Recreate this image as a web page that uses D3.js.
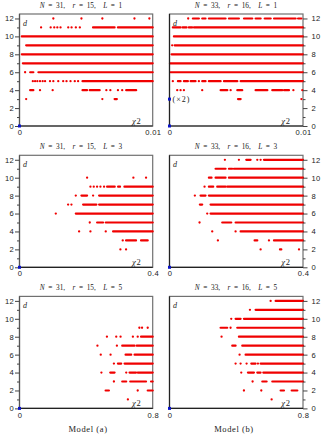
<!DOCTYPE html>
<html>
<head>
<meta charset="utf-8">
<script src="https://cdn.jsdelivr.net/npm/d3@7"></script>
<style>
  html, body { margin: 0; padding: 0; background: #fff; }
  svg { display: block; font-family: "Liberation Serif", "DejaVu Serif", serif; }
</style>
</head>
<body>
<svg id="chart" width="323" height="437"></svg>
<script>
// panel parameters (left column = model a, right column = model b)
const nValues = [31, 33, 31, 33, 31, 33];
const rValues = [15, 16, 15, 16, 15, 16];
const lValues = [1, 1, 3, 3, 5, 5];
const xMaxes = [0.01, 0.01, 0.4, 0.4, 0.8, 0.8];
const xTickLabels = [['0', '0.01'], ['0', '0.01'], ['0', '0.4'], ['0', '0.4'], ['0', '0.8'], ['0', '0.8']];
const yMajorTicks = [0, 2, 4, 6, 8, 10, 12];
const yMinorTicks = [1, 3, 5, 7, 9, 11];
const modelLabels = ['Model (a)', 'Model (b)'];

// red points: [d, runs]; a run is [x] for a single point or [from, to] for a dense stretch
const rowsA1 = [
  [12, [[0.00254], [0.00465], [0.00622], [0.00863], [0.00975]]],
  [11, [[0.00162], [0.00234], [0.00261], [0.00284], [0.00308], [0.00366], [0.00391], [0.00423], [0.00453], [0.00552, 0.00714], [0.00739, 0.01]]],
  [10, [[0.00017, 0.01]]],
  [9, [[0.0005, 0.01]]],
  [8, [[0.00017, 0.01]]],
  [7, [[0.00025, 0.01]]],
  [6, [[0.00042], [0.0008, 0.00104], [0.00142, 0.01]]],
  [5, [[0.001], [0.00117], [0.00134], [0.00154], [0.00174], [0.00192], [0.00229], [0.00254], [0.00291], [0.00328], [0.00353], [0.00383], [0.00415], [0.0044], [0.00473, 0.01]]],
  [4, [[0.0008, 0.00104], [0.00154], [0.00249], [0.00473, 0.00507], [0.00527, 0.00602], [0.00652], [0.00682], [0.00739], [0.00771], [0.00801, 0.00876]]],
  [3, [[0.0005], [0.00622], [0.00714, 0.00731]]]
];
const rowsB1 = [
  [12, [[0.0014], [0.00175, 0.0022], [0.00245, 0.0027], [0.00295, 0.0042], [0.00445, 0.0052], [0.00558, 0.0062], [0.00645, 0.00683], [0.00713, 0.00758], [0.00783, 0.00945], [0.00963, 0.00988]]],
  [11, [[0.00025, 0.00083], [0.00098, 0.00128], [0.00145, 0.0017], [0.00183, 0.01]]],
  [10, [[0.00033, 0.01]]],
  [9, [[0.0002], [0.00038, 0.01]]],
  [8, [[0.00015, 0.01]]],
  [7, [[0.00003, 0.01]]],
  [6, [[0.00008, 0.01]]],
  [5, [[0.00025], [0.00063, 0.00083], [0.00108, 0.00138], [0.00158, 0.00195], [0.0022], [0.00245, 0.0027], [0.00295, 0.00383], [0.00408, 0.00508], [0.00533, 0.01]]],
  [4, [[0.00058], [0.00083], [0.00108], [0.00245], [0.00383, 0.00433], [0.00458], [0.00508, 0.00545], [0.00645, 0.00733], [0.0077, 0.00845], [0.00858, 0.00895], [0.00928], [0.00995]]],
  [3, [[0.00513, 0.00533], [0.00988]]]
];
const rowsA3 = [
  [10, [[0.203], [0.342], [0.38]]],
  [9, [[0.213], [0.223], [0.233], [0.243], [0.254], [0.263, 0.286], [0.296, 0.302], [0.315, 0.4]]],
  [8, [[0.169], [0.186, 0.203], [0.221], [0.239, 0.4]]],
  [7, [[0.146], [0.156], [0.191, 0.231], [0.239, 0.4]]],
  [6, [[0.109], [0.169, 0.4]]],
  [5, [[0.211], [0.233, 0.251], [0.259, 0.4]]],
  [4, [[0.179], [0.213], [0.259], [0.281, 0.4]]],
  [3, [[0.31], [0.32, 0.35], [0.365, 0.385]]],
  [2, [[0.303], [0.32]]]
];
const rowsB3 = [
  [12, [[0.166], [0.208], [0.23, 0.243], [0.263], [0.273], [0.283, 0.4]]],
  [11, [[0.138, 0.168], [0.178, 0.188], [0.193, 0.4]]],
  [10, [[0.118, 0.126], [0.138, 0.168], [0.178, 0.4]]],
  [9, [[0.105], [0.118, 0.131], [0.143, 0.168], [0.173, 0.4]]],
  [8, [[0.076], [0.093, 0.108], [0.118, 0.4]]],
  [7, [[0.091, 0.098], [0.123, 0.4]]],
  [6, [[0.113], [0.123, 0.4]]],
  [5, [[0.09], [0.158, 0.185], [0.198, 0.4]]],
  [4, [[0.128], [0.198], [0.213, 0.4]]],
  [3, [[0.145], [0.255, 0.263], [0.298], [0.313, 0.4]]],
  [2, [[0.273], [0.331, 0.335], [0.388]]]
];
const rowsA5 = [
  [9, [[0.72], [0.736], [0.77]]],
  [8, [[0.525], [0.581], [0.607], [0.681], [0.71], [0.73, 0.8]]],
  [7, [[0.468], [0.585], [0.617, 0.691], [0.704, 0.8]]],
  [6, [[0.488], [0.547], [0.637, 0.671], [0.691, 0.8]]],
  [5, [[0.567], [0.591, 0.611], [0.631, 0.8]]],
  [4, [[0.492], [0.545, 0.571], [0.641], [0.661, 0.7], [0.71, 0.8]]],
  [3, [[0.567], [0.617, 0.641], [0.665, 0.76], [0.79, 0.8]]],
  [2, [[0.517, 0.537], [0.71], [0.77, 0.8]]],
  [1, [[0.651]]]
];
const rowsB5 = [
  [12, [[0.606], [0.636, 0.8]]],
  [11, [[0.482], [0.516, 0.8]]],
  [10, [[0.37], [0.396, 0.426], [0.446, 0.8]]],
  [9, [[0.306, 0.346], [0.366], [0.406, 0.8]]],
  [8, [[0.312], [0.416, 0.8]]],
  [7, [[0.376, 0.396], [0.436, 0.8]]],
  [6, [[0.42], [0.456, 0.8]]],
  [5, [[0.396], [0.426], [0.462], [0.49, 0.516], [0.53], [0.546, 0.8]]],
  [4, [[0.43], [0.47, 0.506], [0.526, 0.546], [0.562, 0.8]]],
  [3, [[0.498], [0.556, 0.582], [0.616, 0.8]]],
  [2, [[0.446], [0.55], [0.666, 0.686], [0.732, 0.766]]],
  [1, [[0.612]]]
];
const panelRows = [rowsA1, rowsB1, rowsA3, rowsB3, rowsA5, rowsB5];

// blue points: [panel, x, d, multiplicity label]
const bluePoints = [
  [0, 0, 0, ''], [1, 0, 0, ''], [1, 0, 3, '(\u00d72)'],
  [2, 0, 0, ''], [3, 0, 0, ''], [4, 0, 0, ''], [5, 0, 0, '']
];

const colSpan = [[19.5, 152.7], [169.5, 303]];
const rowBottom = [126, 267.3, 408.4];
const plotH = 112;
const red = '#f00000';

const svg = d3.select('#chart');

panelRows.forEach((rows, i) => {
  const col = i % 2, row = Math.floor(i / 2);
  const [x0, x1] = colSpan[col];
  const bottom = rowBottom[row];

  const x = d3.scaleLinear().domain([0, xMaxes[i]]).range([x0, x1]);
  const y = d3.scaleLinear().domain([0, 12.5]).range([bottom, bottom - plotH]);
  const top = y(12.5);

  const g = svg.append('g').attr('font-size', '7.5px');

  // frame
  g.append('rect')
    .attr('x', x0).attr('y', top)
    .attr('width', x1 - x0).attr('height', plotH)
    .attr('fill', 'none').attr('stroke', '#707070').attr('stroke-width', 1.2);

  // red marks
  const marks = g.append('g');
  rows.forEach(([d, runs]) => {
    runs.forEach(r => {
      if (r.length === 2) {
        marks.append('line')
          .attr('x1', x(r[0])).attr('x2', x(r[1]))
          .attr('y1', y(d)).attr('y2', y(d))
          .attr('stroke', red).attr('stroke-width', 2.2)
          .attr('stroke-linecap', 'round');
      } else {
        marks.append('circle')
          .attr('cx', x(r[0])).attr('cy', y(d)).attr('r', 1.15)
          .attr('fill', red);
      }
    });
  });

  // axes lines at x = 0 and d = 0
  g.append('line').attr('x1', x(0)).attr('x2', x(xMaxes[i]))
    .attr('y1', y(0)).attr('y2', y(0)).attr('stroke', '#222').attr('stroke-width', 1.2);
  g.append('line').attr('x1', x(0)).attr('x2', x(0))
    .attr('y1', y(0)).attr('y2', top).attr('stroke', col === 1 ? '#222' : '#555').attr('stroke-width', 1.2);

  // y axis
  const yAxis = col === 0 ? d3.axisLeft(y) : d3.axisRight(y);
  const yAxisG = g.append('g')
    .attr('transform', 'translate(' + (col === 0 ? x0 : x1) + ',0)')
    .call(yAxis.tickValues(yMajorTicks).tickSize(4.5).tickPadding(col === 0 ? 1 : 4));
  yAxisG.select('.domain').remove();
  yAxisG.selectAll('line').attr('stroke', '#444');
  yAxisG.selectAll('text').attr('font-size', '7.6px').attr('fill', '#222')
    .attr('font-family', null).attr('letter-spacing', '0.3px');

  const yMinor = (col === 0 ? d3.axisLeft(y) : d3.axisRight(y))
    .tickValues(yMinorTicks).tickSize(2.5).tickFormat('');
  const yMinorG = g.append('g')
    .attr('transform', 'translate(' + (col === 0 ? x0 : x1) + ',0)')
    .call(yMinor);
  yMinorG.select('.domain').remove();
  yMinorG.selectAll('line').attr('stroke', '#444');

  // x axis labels
  const xAxisG = g.append('g')
    .attr('transform', 'translate(0,' + bottom + ')')
    .call(d3.axisBottom(x).tickValues([0, xMaxes[i]]).tickSize(0).tickPadding(3.8)
      .tickFormat((v, k) => xTickLabels[i][k]));
  xAxisG.select('.domain').remove();
  xAxisG.selectAll('text').attr('font-size', '7.6px').attr('fill', '#222')
    .attr('font-family', null).attr('letter-spacing', '0.3px');

  // title
  const title = g.append('text')
    .attr('x', col === 0 ? 81 : 236).attr('y', top - 6.3)
    .attr('text-anchor', 'middle').attr('font-size', '7.3px').attr('fill', '#222')
    .attr('xml:space', 'preserve');
  title.append('tspan').attr('font-style', 'italic').text('N');
  title.append('tspan').text('\u2002=\u2002' + nValues[i] + ',\u2003');
  title.append('tspan').attr('font-style', 'italic').text('r');
  title.append('tspan').text('\u2002=\u2002' + rValues[i] + ',\u2003');
  title.append('tspan').attr('font-style', 'italic').text('L');
  title.append('tspan').text('\u2002=\u2002' + lValues[i]);

  // corner labels
  g.append('text').attr('x', x0 + 3.5).attr('y', top + 12)
    .attr('font-style', 'italic').attr('font-size', '8px').attr('fill', '#222').text('d');
  const chi = g.append('text').attr('x', x1 - (col === 0 ? 12 : 13)).attr('y', bottom - 2)
    .attr('text-anchor', 'end').attr('font-size', '8.5px').attr('fill', '#222');
  chi.append('tspan').attr('font-style', 'italic').text('\u03c7');
  chi.append('tspan').attr('dx', '0.8').text('2');

  // blue points
  bluePoints.filter(b => b[0] === i).forEach(([, bx, bd, lab]) => {
    g.append('rect')
      .attr('x', x(bx) - 1.5).attr('y', y(bd) - 1.5)
      .attr('width', 3).attr('height', 3).attr('fill', '#0a14c8');
    if (lab) {
      g.append('text').attr('x', x(bx) + 3).attr('y', y(bd)).attr('dy', '0.35em')
        .attr('font-size', '8px').attr('letter-spacing', '1px').attr('fill', '#222').text(lab);
    }
  });

  // model label
  if (row === 2) {
    svg.append('text')
      .attr('x', col === 0 ? 88 : 234).attr('y', 432)
      .attr('text-anchor', 'middle').attr('font-size', '8.5px')
      .attr('letter-spacing', '0.6px').attr('fill', '#222')
      .text(modelLabels[col]);
  }
});
</script>
</body>
</html>
